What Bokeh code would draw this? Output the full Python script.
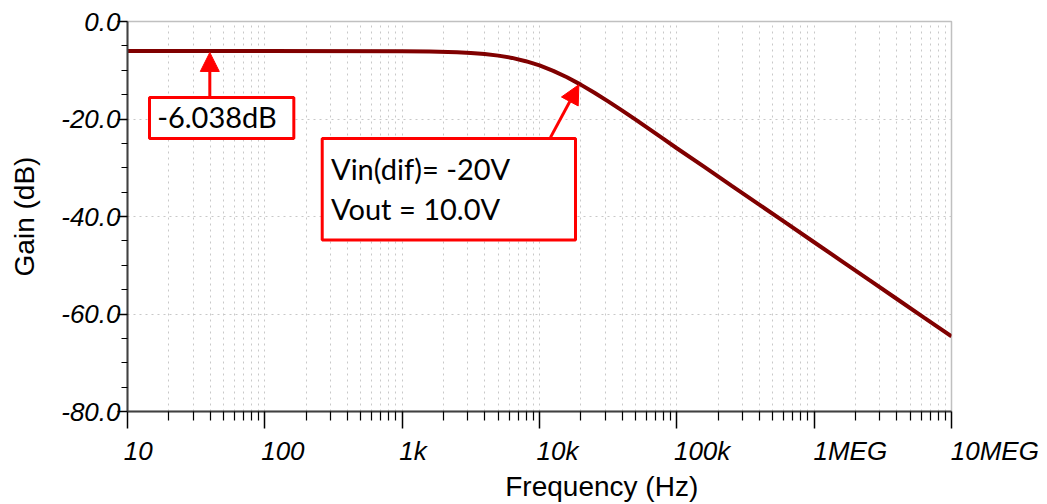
from bokeh.plotting import figure
from bokeh.models import Range1d, FixedTicker, BoxAnnotation, Label, Arrow, NormalHead
from bokeh.embed import file_html
from bokeh.resources import INLINE

# ---- data ----
freq_hz = [10, 100, 1000, 1585, 2512, 3162, 3981, 5012, 6310, 7943, 10000, 12590, 15850,
           19950, 25120, 31620, 39810, 50120, 63100, 79430, 100000, 158500, 251200, 398100,
           631000, 1000000, 1585000, 2512000, 3981000, 6310000, 10000000]
gain_db = [-6.038, -6.04, -6.08, -6.15, -6.30, -6.45, -6.67, -7.00, -7.47, -8.14, -9.01,
           -10.12, -11.44, -12.95, -14.61, -16.38, -18.23, -20.13, -22.07, -24.03, -26.00,
           -29.84, -33.70, -37.55, -41.42, -45.28, -49.14, -53.01, -56.87, -60.74, -64.60]

x_ticks = [10, 100, 1000, 10000, 100000, 1000000, 10000000]
x_tick_labels = ["10", "100", "1k", "10k", "100k", "1MEG", "10MEG"]
y_ticks = [0, -20, -40, -60, -80]
y_tick_labels = ["0.0", "-20.0", "-40.0", "-60.0", "-80.0"]
y_minor = [-5, -10, -15, -25, -30, -35, -45, -50, -55, -65, -70, -75]
x_minor = [m * 10 ** d for d in range(1, 7) for m in range(2, 10)]

x_title = "Frequency (Hz)"
y_title = "Gain (dB)"

# annotation 1: marker for flat gain
ann1_text = "-6.038dB"
ann1_box = dict(left=14.46, right=162.6, top=-15.57, bottom=-23.98)
ann1_text_pos = (16.45, -19.43)
ann1_arrow = dict(x_start=39.75, y_start=-15.57, x_end=39.75, y_end=-6.35)

# annotation 2
ann2_lines = ["Vin(dif)= -20V", "Vout = 10.0V"]
ann2_box = dict(left=261.7, right=18290, top=-23.98, bottom=-44.80)
ann2_text_x = 303.3
ann2_text_y = [-30.18, -38.38]
ann2_arrow = dict(x_start=12030, y_start=-23.77, x_end=19340, y_end=-12.97)

RED = "#ff0000"
CURVE = "#800000"
GRID = "#c8c8c8"
NBSP = "\u00a0"

# Arial/Liberation Sans advance widths (em) -> pad labels so they start at the tick
_W = {"0": .556, "1": .556, "k": .5, "M": .833, "E": .667, "G": .778}
def left_pad(s):
    w = sum(_W.get(c, .556) for c in s)
    if "M" in s:
        n = round(w / 0.278)
    else:
        n = round((w - 0.24) / 0.278)
    return NBSP * n + s

p = figure(width=1047, height=504, x_axis_type="log",
           x_range=Range1d(10, 1e7), y_range=Range1d(-80, 0),
           output_backend="svg", toolbar_location=None,
           min_border_left=127, min_border_right=96, min_border_top=21, min_border_bottom=93,
           x_axis_label=NBSP * 16 + x_title, y_axis_label=y_title)
p.background_fill_color = "white"
p.border_fill_color = "white"
p.outline_line_color = "#c0c0c0"
p.outline_line_width = 1.5

xt = FixedTicker(ticks=x_ticks, minor_ticks=x_minor)
yt = FixedTicker(ticks=y_ticks, minor_ticks=y_minor)

xa = p.xaxis[0]
xa.ticker = xt
xa.major_label_overrides = {t: left_pad(l) for t, l in zip(x_ticks, x_tick_labels)}
ya = p.yaxis[0]
ya.ticker = yt
ya.major_label_overrides = {t: l for t, l in zip(y_ticks, y_tick_labels)}

for ax in (xa, ya):
    ax.axis_line_color = "#404040"
    ax.axis_line_width = 2
    ax.major_tick_line_color = "black"
    ax.minor_tick_line_color = "black"
    ax.major_tick_line_width = 1.5
    ax.minor_tick_line_width = 1.2
    ax.major_tick_in = 0
    ax.minor_tick_in = 0
    ax.major_label_text_font = "Liberation Sans"
    ax.major_label_text_font_style = "italic"
    ax.major_label_text_font_size = "26px"
    ax.major_label_text_color = "black"
    ax.axis_label_text_font = "Liberation Sans"
    ax.axis_label_text_font_style = "normal"
    ax.axis_label_text_font_size = "28px"
    ax.axis_label_text_color = "black"

xa.major_tick_out = 17
xa.minor_tick_out = 9
xa.major_label_standoff = 7
xa.axis_label_standoff = 2
ya.major_tick_out = 10
ya.minor_tick_out = 6
ya.major_label_standoff = -3
ya.axis_label_standoff = 18

p.xgrid.ticker = xt
p.xgrid.grid_line_color = GRID
p.xgrid.grid_line_dash = "2 4"
p.xgrid.grid_line_width = 1
p.xgrid.minor_grid_line_color = GRID
p.xgrid.minor_grid_line_dash = "2 4"
p.xgrid.minor_grid_line_width = 1
p.ygrid.ticker = FixedTicker(ticks=y_ticks)
p.ygrid.grid_line_color = GRID
p.ygrid.grid_line_dash = "2 4"
p.ygrid.grid_line_width = 1

p.line(freq_hz, gain_db, line_color=CURVE, line_width=4)

# annotations
for bx in (ann1_box, ann2_box):
    p.add_layout(BoxAnnotation(**bx, fill_color="white", fill_alpha=1.0,
                               line_color=RED, line_alpha=1.0, line_width=3))

p.add_layout(Arrow(**ann1_arrow, line_color=RED, line_width=3,
                   end=NormalHead(size=19, fill_color=RED, line_color=RED, line_width=1)))
p.add_layout(Arrow(**ann2_arrow, line_color=RED, line_width=3,
                   end=NormalHead(size=19, fill_color=RED, line_color=RED, line_width=1)))

p.add_layout(Label(x=ann1_text_pos[0], y=ann1_text_pos[1], text=ann1_text,
                   text_font="Lato", text_font_size="29px", text_color="black",
                   text_baseline="middle", text_align="left"))
for txt, yy in zip(ann2_lines, ann2_text_y):
    p.add_layout(Label(x=ann2_text_x, y=yy, text=txt,
                       text_font="Lato", text_font_size="29px", text_color="black",
                       text_baseline="middle", text_align="left"))

open("out.html", "w").write(file_html(p, INLINE))
